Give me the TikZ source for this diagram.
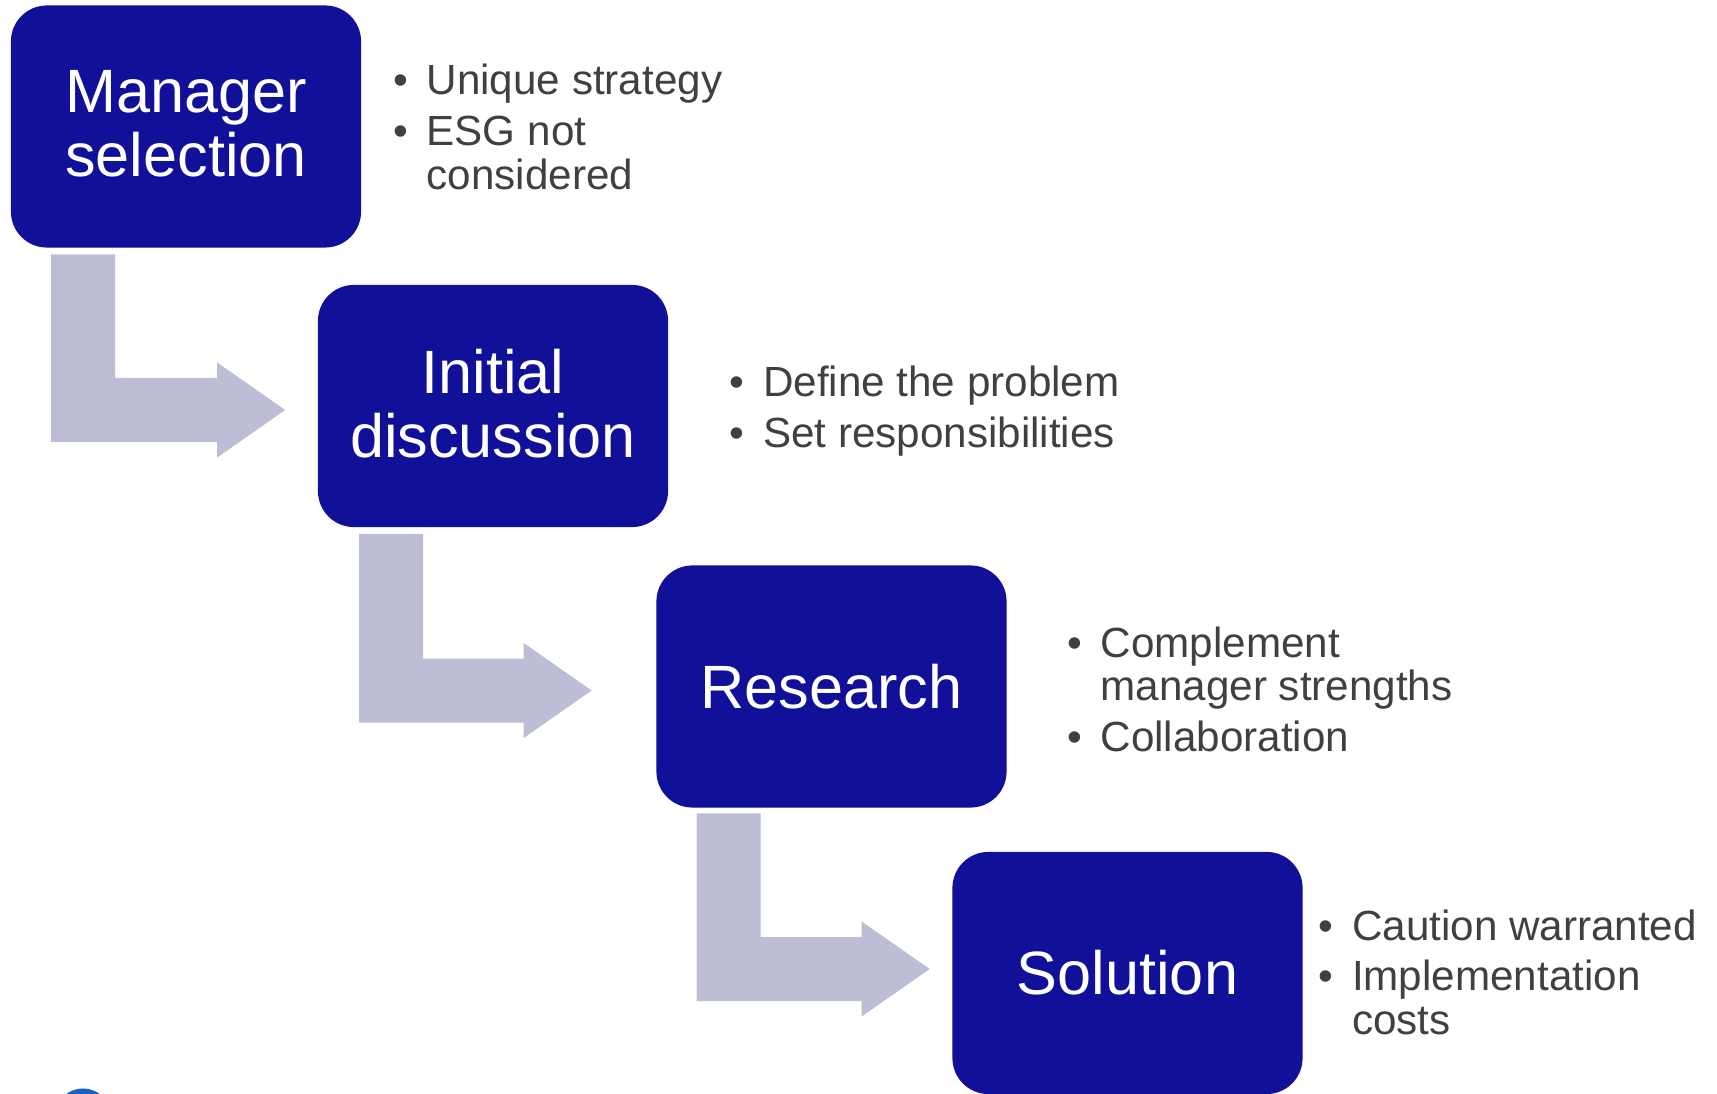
\documentclass[tikz,border=0pt]{standalone}
\usepackage{fontspec}
\setmainfont{Liberation Sans}
\usepackage{tikz}
\usetikzlibrary{calc}
\definecolor{stageblue}{RGB}{16,16,152}
\definecolor{flowgray}{RGB}{189,190,214}
\definecolor{notegray}{RGB}{64,64,64}
\definecolor{logoblue}{RGB}{26,96,196}
\newcommand{\bentarrow}[2]% start of bar, tip
{(#1) -- ++(64,0) |- ($(#2)+(-68,-32)$) -- ($(#2)+(-68,-47.5)$) -- (#2)
 -- ($(#2)+(-68,47.5)$) -- ($(#2)+(-68,32)$) -| (#1) -- cycle
}
\newcommand{\bulletlist}[1]% rows
{\begin{tabular}[t]{@{}l@{\hspace{5.3pt}}l@{}}#1\end{tabular}
}

\begin{document}
\begin{tikzpicture}[x=0.01cm,y=-0.01cm,
	stage/.style={rectangle, rounded corners=0.36cm, fill=stageblue, text=white,
		minimum width=3.5cm, minimum height=2.42cm, inner sep=0pt, align=center,
		font=\fontsize{17.4}{18.2}\selectfont},
	twoline/.style={text depth=0.06cm},
	notes/.style={anchor=base west, inner sep=0pt, text=notegray,
		font=\fontsize{12}{12.5}\selectfont},
	flow/.style={fill=flowgray}]
	\useasboundingbox (0,0) rectangle (1717,1094);
	\node[stage,twoline] (mgr) at (186,126.5) {Manager\\selection};%0
	\node[stage,twoline] (disc) at (493,406) {Initial\\discussion};%1
	\node[stage] (res) at (831.5,686.5) {Research};%2
	\node[stage] (sol) at (1127.5,973) {Solution};%3
	\node[notes] (mgrnotes) at (392.6,95) {\bulletlist{\textbullet & Unique strategy\\[1.8pt]
		\textbullet & ESG not\\ & considered}};
	\node[notes] (discnotes) at (729,397) {\bulletlist{\textbullet & Define the problem\\[1.8pt]
		\textbullet & Set responsibilities}};
	\node[notes] (resnotes) at (1066.6,657) {\bulletlist{\textbullet & Complement\\ & manager strengths\\[1.8pt]
		\textbullet & Collaboration}};
	\node[notes] (solnotes) at (1318,940) {\bulletlist{\textbullet & Caution warranted\\[1.8pt]
		\textbullet & Implementation\\ & costs}};
	\coordinate (a1) at ($(mgr.south west)+(41,6)$);
	\coordinate (t1) at ($(disc.west)+(-32,4)$);
	\coordinate (a2) at ($(disc.south west)+(42,6)$);
	\coordinate (t2) at ($(res.west)+(-64,4)$);
	\coordinate (a3) at ($(res.south west)+(41,5)$);
	\coordinate (t3) at ($(sol.west)+(-22,-4)$);
	\fill[flow] \bentarrow{a1}{t1};
	\fill[flow] \bentarrow{a2}{t2};
	\fill[flow] \bentarrow{a3}{t3};
	\begin{scope}
	\clip (0,0) rectangle (1717,1094);
	\fill[logoblue] (83,1117) circle (28.5);
	\end{scope}
\end{tikzpicture}
\end{document}
